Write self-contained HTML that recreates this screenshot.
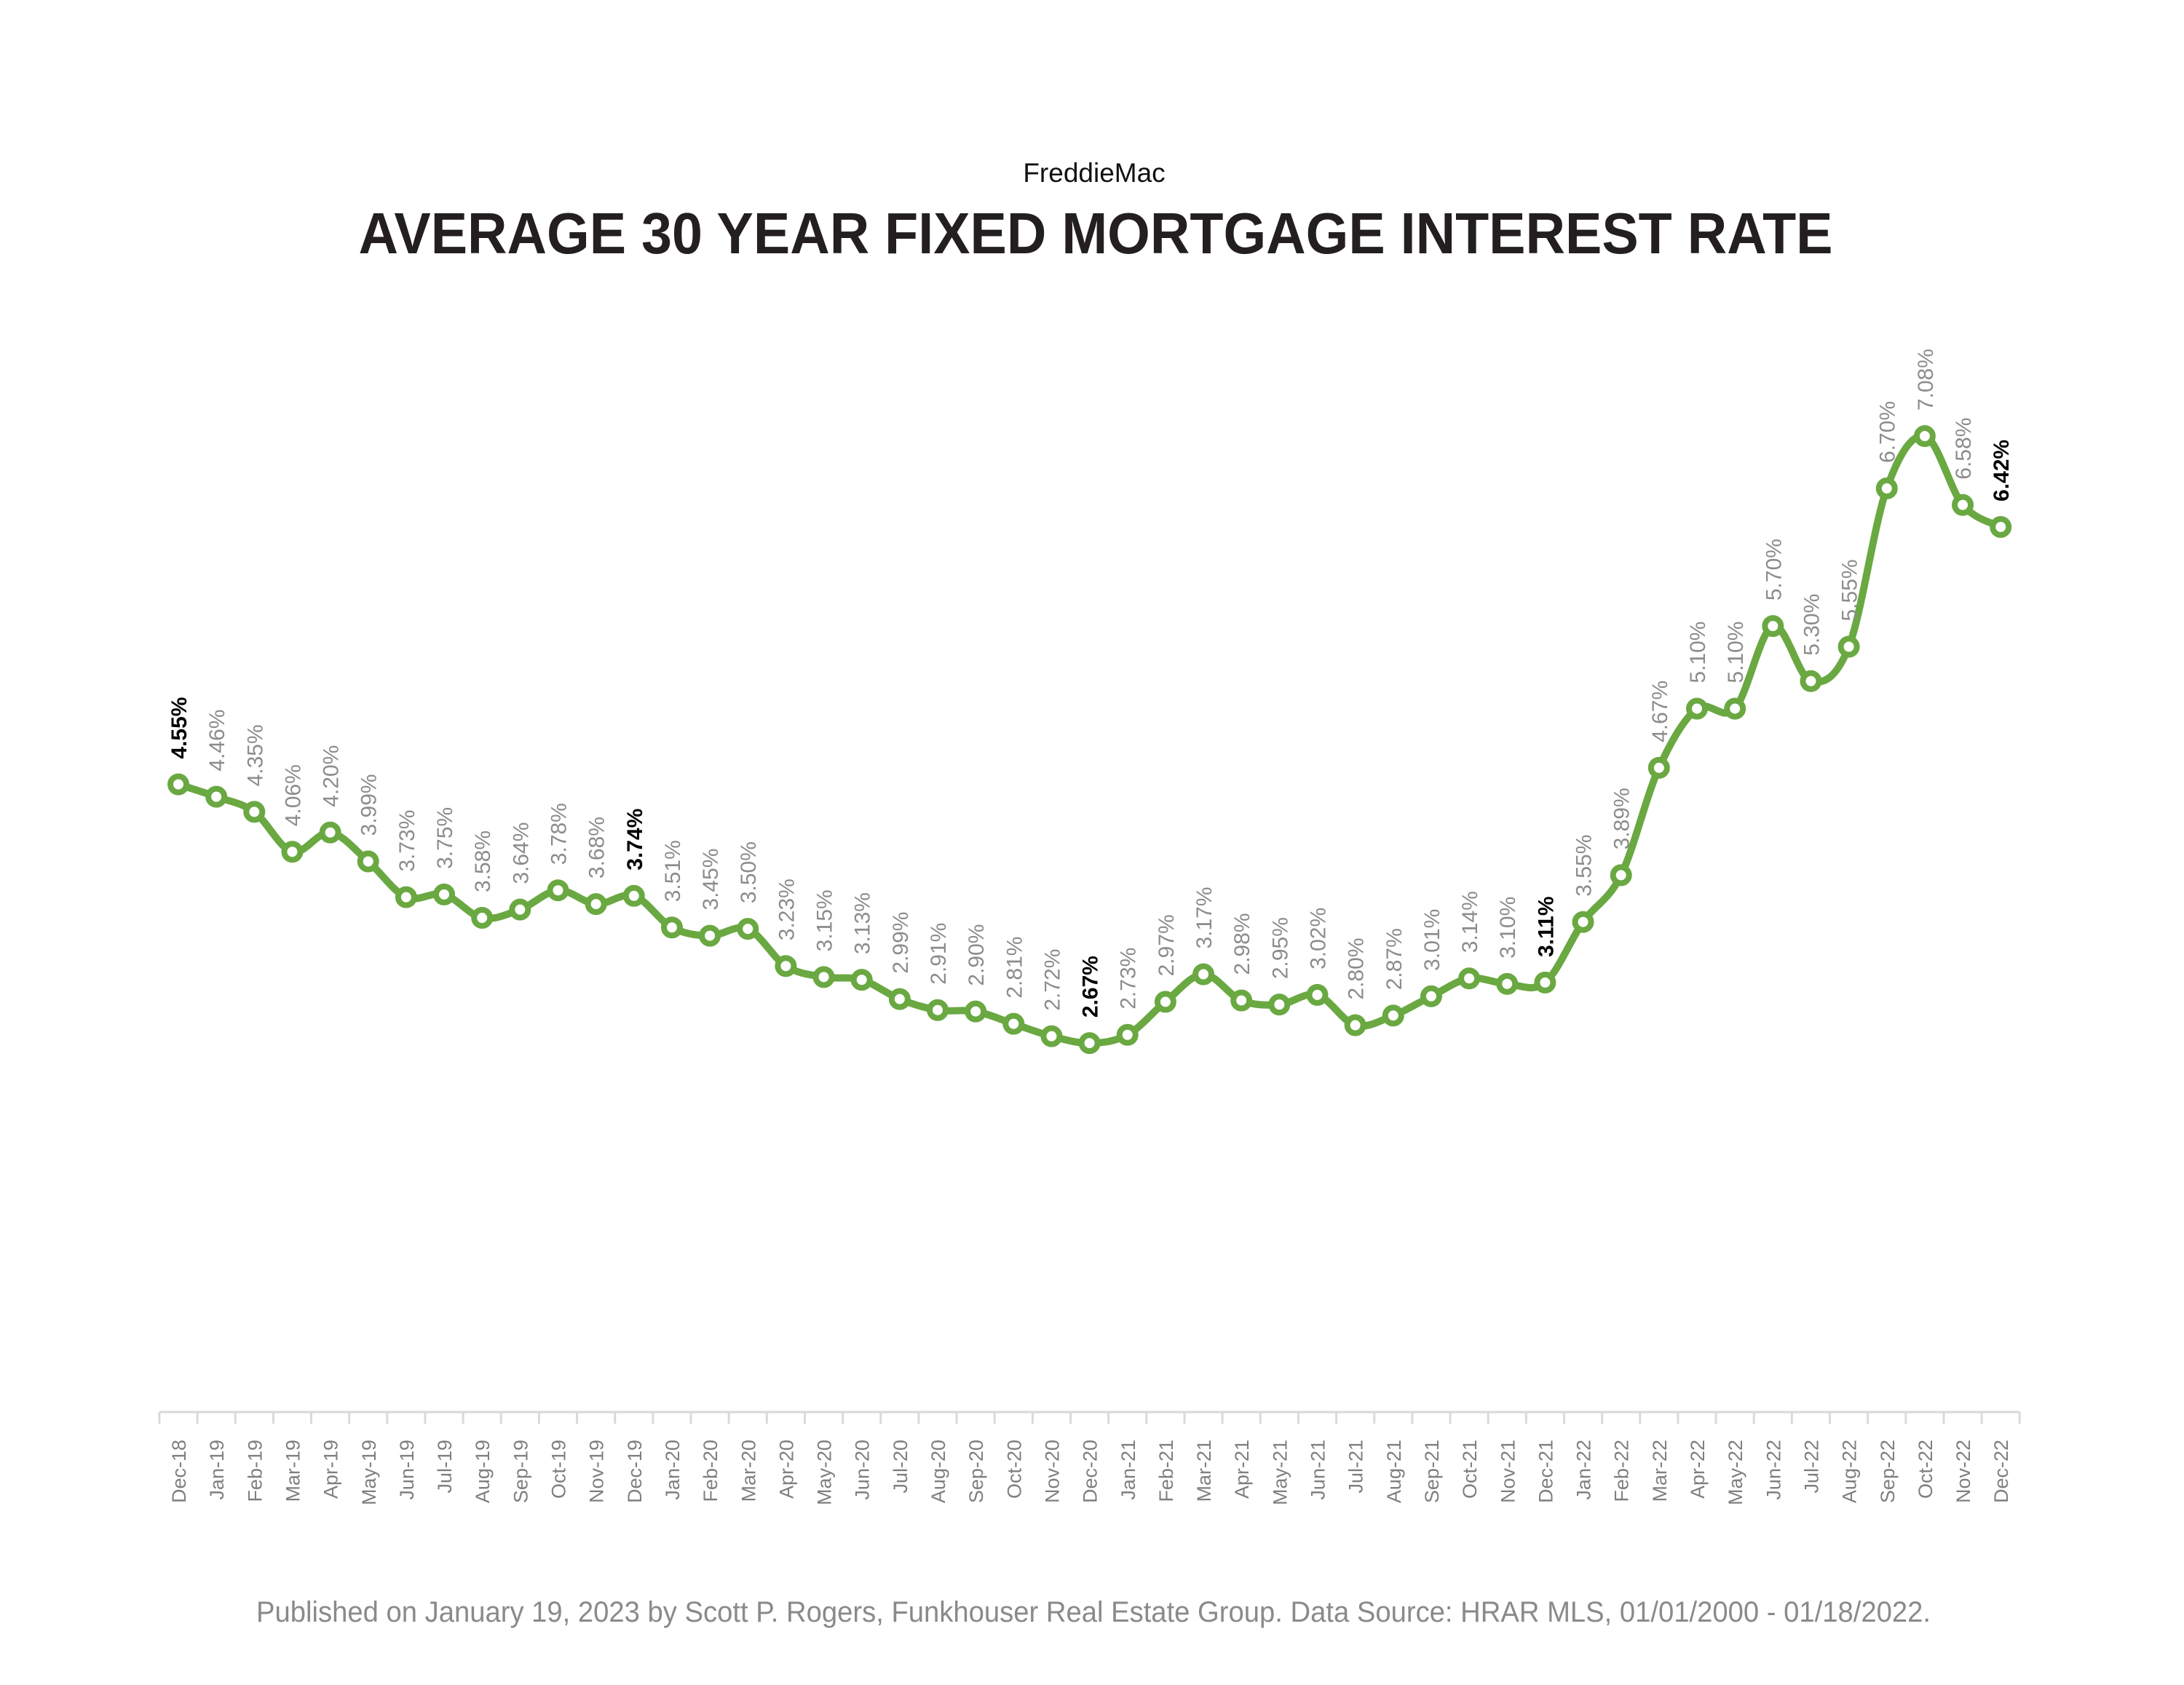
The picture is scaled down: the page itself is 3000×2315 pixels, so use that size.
<!DOCTYPE html>
<html><head><meta charset="utf-8"><style>
html,body{margin:0;padding:0;background:#fff;}
svg{display:block;}
</style></head><body>
<svg id="chart" width="3000" height="2315" viewBox="0 0 3000 2315" xmlns="http://www.w3.org/2000/svg" font-family="'Liberation Sans', sans-serif">
<rect width="3000" height="2315" fill="#fff"/>
<text x="1503" y="250" text-anchor="middle" font-size="37" fill="#111">FreddieMac</text>
<text x="1505" y="348" text-anchor="middle" font-size="80" font-weight="bold" fill="#231f20" textLength="2025" lengthAdjust="spacingAndGlyphs">AVERAGE 30 YEAR FIXED MORTGAGE INTEREST RATE</text>
<text x="1502" y="2228" text-anchor="middle" font-size="40" fill="#8a8a8a" textLength="2300" lengthAdjust="spacingAndGlyphs">Published on January 19, 2023 by Scott P. Rogers, Funkhouser Real Estate Group. Data Source: HRAR MLS, 01/01/2000 - 01/18/2022.</text>
<g id="axis"></g>
<g id="plot"></g>
</svg>
<script>
const categories = ["Dec-18","Jan-19","Feb-19","Mar-19","Apr-19","May-19","Jun-19","Jul-19","Aug-19","Sep-19","Oct-19","Nov-19","Dec-19","Jan-20","Feb-20","Mar-20","Apr-20","May-20","Jun-20","Jul-20","Aug-20","Sep-20","Oct-20","Nov-20","Dec-20","Jan-21","Feb-21","Mar-21","Apr-21","May-21","Jun-21","Jul-21","Aug-21","Sep-21","Oct-21","Nov-21","Dec-21","Jan-22","Feb-22","Mar-22","Apr-22","May-22","Jun-22","Jul-22","Aug-22","Sep-22","Oct-22","Nov-22","Dec-22"];
const rates = [4.55,4.46,4.35,4.06,4.20,3.99,3.73,3.75,3.58,3.64,3.78,3.68,3.74,3.51,3.45,3.50,3.23,3.15,3.13,2.99,2.91,2.90,2.81,2.72,2.67,2.73,2.97,3.17,2.98,2.95,3.02,2.80,2.87,3.01,3.14,3.10,3.11,3.55,3.89,4.67,5.10,5.10,5.70,5.30,5.55,6.70,7.08,6.58,6.42];
const highlighted = ["Dec-18","Dec-19","Dec-20","Dec-21","Dec-22"];

const NS = "http://www.w3.org/2000/svg";
const x0 = 245, step = 52.15;
function xScale(i){ return x0 + i*step; }
function yScale(v){ return 1938 - v*189.1; }
const axisY = 1940;
const axis = document.getElementById('axis');
const plot = document.getElementById('plot');
function mk(tag, attrs, parent){
  const e = document.createElementNS(NS, tag);
  for (const k in attrs) e.setAttribute(k, attrs[k]);
  parent.appendChild(e); return e;
}
const n = categories.length;
const al = mk('line', {x1: xScale(0)-step/2, x2: xScale(n-1)+step/2, y1: axisY, y2: axisY, stroke:'#d9d9d9', 'stroke-width':3}, axis);


for (let i=0;i<=n;i++){
  const tx = xScale(i)-step/2;
  const t = mk('line', {x1:tx, x2:tx, y1:axisY, y2:axisY+16, stroke:'#d9d9d9', 'stroke-width':3}, axis);
  
  
}
categories.forEach((c,i)=>{
  const x = xScale(i)+10, y = 1978;
  const t = mk('text', {x:x, y:y, transform:`rotate(-90 ${x} ${y})`, 'text-anchor':'end', 'font-size':27, fill:'#7f7f7f'}, axis);
  t.textContent = c;
  
  
});
const pts = rates.map((v,i)=>[xScale(i), yScale(v)]);
let d = `M${pts[0][0]},${pts[0][1]}`;
for (let i=0;i<pts.length-1;i++){
  const p0 = pts[Math.max(0,i-1)], p1 = pts[i], p2 = pts[i+1], p3 = pts[Math.min(pts.length-1,i+2)];
  const c1 = [p1[0]+(p2[0]-p0[0])/6, p1[1]+(p2[1]-p0[1])/6];
  const c2 = [p2[0]-(p3[0]-p1[0])/6, p2[1]-(p3[1]-p1[1])/6];
  d += ` C${c1[0]},${c1[1]} ${c2[0]},${c2[1]} ${p2[0]},${p2[1]}`;
}
const line = mk('path', {d:d, fill:'none', stroke:'#6aa842', 'stroke-width':10, 'stroke-linejoin':'round', 'stroke-linecap':'round'}, plot);


rates.forEach((v,i)=>{
  const cx = xScale(i), cy = yScale(v);
  const c = mk('circle', {cx:cx, cy:cy, r:11, fill:'#fff', stroke:'#6aa842', 'stroke-width':8}, plot);
  
  
  const hl = highlighted.includes(categories[i]);
  const lx = cx+11, ly = cy-35;
  const t = mk('text', {x:lx, y:ly, transform:`rotate(-90 ${lx} ${ly})`, 'text-anchor':'start', 'font-size':30, fill: hl ? '#000' : '#8c8c8c', 'font-weight': hl ? 'bold' : 'normal'}, plot);
  t.textContent = v.toFixed(2) + '%';
  
  
});
</script>
</body></html>
